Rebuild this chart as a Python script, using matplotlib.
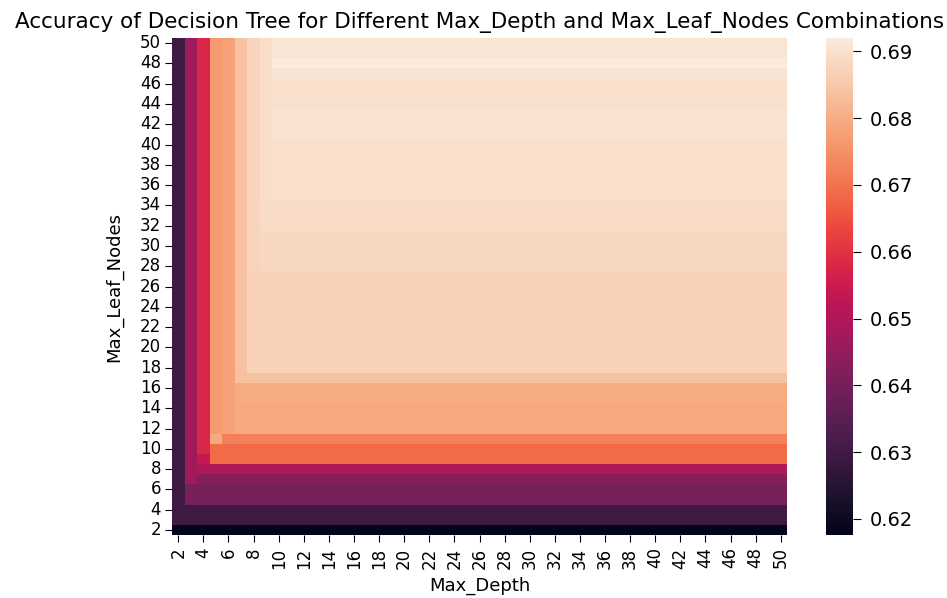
import matplotlib
matplotlib.use("Agg")
import matplotlib.pyplot as plt
import numpy as np
import pandas as pd
import seaborn as sns

# значения параметров
max_depth = list(range(2, 51))
max_leaf_nodes = list(range(2, 51))

# точность при большой глубине (по строкам max_leaf_nodes = 2..50)
row_acc = [0.6176, 0.6300, 0.6300, 0.6400, 0.6400, 0.6430, 0.6500, 0.6690, 0.6690,
           0.6720, 0.6792, 0.6792, 0.6792, 0.6796, 0.6796, 0.6838,
           0.6868, 0.6868, 0.6868, 0.6868, 0.6868, 0.6868, 0.6868, 0.6868, 0.6868, 0.6868,
           0.6880, 0.6880, 0.6880, 0.6880,
           0.6890, 0.6890, 0.6890,
           0.6898, 0.6898, 0.6898, 0.6898, 0.6898, 0.6898,
           0.6903, 0.6903, 0.6903,
           0.6898, 0.6898, 0.6898,
           0.6903, 0.6920, 0.6908, 0.6908]

# точность при малой глубине (столбцы max_depth = 2..9), дальше ограничения нет
depth_acc = [0.6300, 0.6470, 0.6580, 0.6765, 0.6780, 0.6840, 0.6875, 0.6893]

# отдельные клетки, выбивающиеся из общей картины: (depth, leaf) -> acc
special = {(3, 7): 0.6470, (4, 9): 0.6540, (5, 11): 0.6790}

col_acc = depth_acc + [1.0] * (len(max_depth) - len(depth_acc))
grid = np.minimum(np.array(row_acc)[:, None], np.array(col_acc)[None, :])
for (d, l), v in special.items():
    grid[max_leaf_nodes.index(l), max_depth.index(d)] = v

df = pd.DataFrame(grid, index=max_leaf_nodes, columns=max_depth)

fig = plt.figure(figsize=(9.47, 5.98), dpi=100)
ax = fig.add_axes([172 / 947, 1 - 535 / 598, 615 / 947, 497 / 598])
cax = fig.add_axes([826 / 947, 1 - 535 / 598, 27 / 947, 497 / 598])

sns.heatmap(df, ax=ax, cbar_ax=cax, cmap="rocket", xticklabels=2, yticklabels=2)
ax.invert_yaxis()

ax.set_title("Accuracy of Decision Tree for Different Max_Depth and Max_Leaf_Nodes Combinations",
             fontsize=15.5, pad=7)
ax.set_xlabel("Max_Depth", fontsize=13, labelpad=6)
ax.set_ylabel("Max_Leaf_Nodes", fontsize=13, labelpad=12)
ax.tick_params(axis="x", labelsize=12, rotation=90, length=5, pad=4)
ax.tick_params(axis="y", labelsize=12, rotation=0, length=5, pad=3)
cax.tick_params(labelsize=14, length=6, pad=6)
cax.set_yticks([0.62, 0.63, 0.64, 0.65, 0.66, 0.67, 0.68, 0.69])

fig.savefig("out.png", dpi=100)
